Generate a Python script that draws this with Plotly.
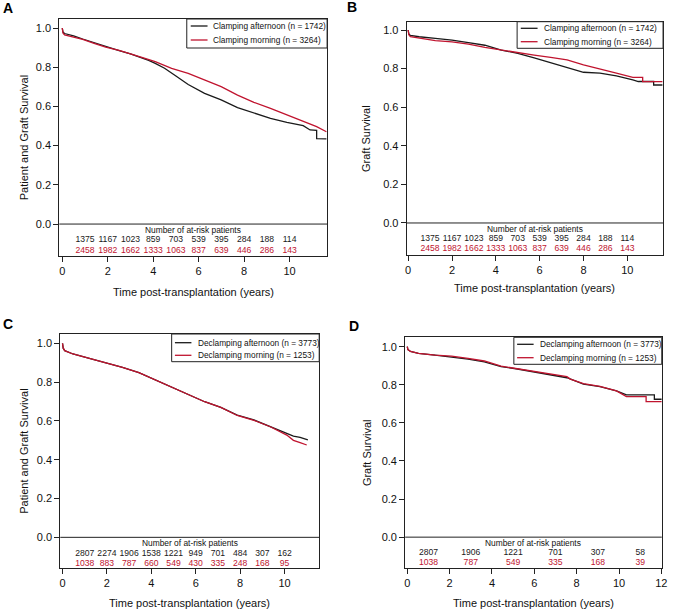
import plotly.graph_objects as go

W, H = 674, 609
FONT = "Liberation Sans, Arial, Helvetica, sans-serif"
BLACK = "#1a1a1a"
RED = "#c0142f"

# ---------------- data ----------------
# Panel A: patient and graft survival, clamping
A_t_aft = [0, 0.03, 0.1, 0.5, 0.9, 1.4, 1.91, 2.5, 3.0, 3.36, 3.8, 4.09, 4.5, 5.0, 5.54, 6.26, 6.99, 7.71, 8.43, 9.16, 9.88, 10.6, 10.9, 11.19, 11.19, 11.62]
A_s_aft = [1.0, 0.98, 0.972, 0.96, 0.944, 0.925, 0.905, 0.885, 0.868, 0.854, 0.835, 0.820, 0.795, 0.755, 0.712, 0.667, 0.633, 0.594, 0.565, 0.539, 0.519, 0.502, 0.480, 0.478, 0.436, 0.434]
A_t_morn = [0, 0.03, 0.1, 0.5, 0.9, 1.4, 1.91, 2.5, 3.0, 3.5, 4.09, 4.81, 5.54, 6.26, 6.99, 7.71, 8.43, 9.16, 9.88, 10.6, 11.19, 11.62]
A_s_morn = [1.0, 0.975, 0.965, 0.955, 0.942, 0.922, 0.903, 0.886, 0.870, 0.850, 0.828, 0.794, 0.769, 0.735, 0.701, 0.658, 0.621, 0.590, 0.556, 0.522, 0.497, 0.471]

# Panel B: graft survival, clamping
B_t_aft = [0, 0.03, 0.1, 0.5, 1.24, 2.0, 2.75, 3.5, 4.25, 5.0, 5.75, 6.5, 7.25, 8.0, 8.75, 9.5, 10.25, 10.5, 11.2, 11.2, 11.6]
B_s_aft = [1.0, 0.98, 0.972, 0.965, 0.957, 0.948, 0.934, 0.921, 0.896, 0.879, 0.856, 0.831, 0.805, 0.781, 0.776, 0.762, 0.741, 0.733, 0.733, 0.715, 0.715]
B_t_morn = [0, 0.03, 0.1, 0.5, 1.24, 2.0, 2.75, 3.5, 4.25, 5.0, 5.75, 6.5, 7.25, 8.0, 8.75, 9.5, 10.25, 10.7, 10.7, 11.6]
B_s_morn = [1.0, 0.975, 0.965, 0.957, 0.945, 0.938, 0.927, 0.910, 0.896, 0.882, 0.870, 0.858, 0.845, 0.819, 0.796, 0.776, 0.755, 0.755, 0.732, 0.732]

# Panel C: patient and graft survival, declamping
C_t_aft = [0, 0.03, 0.1, 0.47, 1.21, 1.96, 2.70, 3.44, 4.18, 4.92, 5.66, 6.4, 7.13, 7.87, 8.62, 9.36, 10.1, 10.4, 10.7, 11.0, 11.05]
C_s_aft = [1.0, 0.975, 0.962, 0.945, 0.922, 0.900, 0.876, 0.849, 0.811, 0.776, 0.737, 0.699, 0.670, 0.630, 0.605, 0.570, 0.536, 0.522, 0.515, 0.502, 0.502]
C_t_morn = [0, 0.03, 0.1, 0.47, 1.21, 1.96, 2.70, 3.44, 4.18, 4.92, 5.66, 6.4, 7.13, 7.87, 8.62, 9.36, 10.1, 10.4, 10.7, 11.0]
C_s_morn = [1.0, 0.975, 0.962, 0.945, 0.922, 0.900, 0.876, 0.849, 0.811, 0.773, 0.734, 0.699, 0.670, 0.628, 0.603, 0.570, 0.527, 0.500, 0.488, 0.476]

# Panel D: graft survival, declamping
D_t_aft = [0, 0.03, 0.15, 0.53, 1.31, 2.09, 2.87, 3.64, 4.43, 5.2, 5.98, 6.76, 7.54, 8.32, 9.1, 9.88, 10.35, 11.67, 11.67, 12.02]
D_s_aft = [1.0, 0.985, 0.975, 0.965, 0.956, 0.946, 0.935, 0.921, 0.895, 0.883, 0.869, 0.852, 0.837, 0.803, 0.790, 0.768, 0.747, 0.747, 0.724, 0.724]
D_t_morn = [0, 0.03, 0.15, 0.53, 1.31, 2.09, 2.87, 3.64, 4.43, 5.2, 5.98, 6.76, 7.54, 7.7, 8.32, 9.1, 9.88, 10.35, 11.28, 11.28, 12.02]
D_s_morn = [1.0, 0.985, 0.975, 0.965, 0.956, 0.951, 0.939, 0.925, 0.898, 0.885, 0.872, 0.856, 0.843, 0.830, 0.806, 0.792, 0.768, 0.738, 0.738, 0.712, 0.712]

# Number at risk
AB_risk_years = [1, 2, 3, 4, 5, 6, 7, 8, 9, 10]
AB_risk_aft = [1375, 1167, 1023, 859, 703, 539, 395, 284, 188, 114]
AB_risk_morn = [2458, 1982, 1662, 1333, 1063, 837, 639, 446, 286, 143]
C_risk_years = [1, 2, 3, 4, 5, 6, 7, 8, 9, 10]
C_risk_aft = [2807, 2274, 1906, 1538, 1221, 949, 701, 484, 307, 162]
C_risk_morn = [1038, 883, 787, 660, 549, 430, 335, 248, 168, 95]
D_risk_years = [1, 3, 5, 7, 9, 11]
D_risk_aft = [2807, 1906, 1221, 701, 307, 58]
D_risk_morn = [1038, 787, 549, 335, 168, 39]

Y_TICKS = [0, 0.2, 0.4, 0.6, 0.8, 1.0]
X_TICKS = [0, 2, 4, 6, 8, 10, 12]

# ---------------- layout helpers ----------------
def px(x):
    return x / W

def py(y):
    return 1 - y / H

panels = [
    dict(letter="A", letter_xy=(6, 8), box=(58, 19, 329, 256), xr=[-0.13, 11.65], yr=[-0.163, 1.046],
         ytitle="Patient and Graft Survival", ytitle_x=22,
         legend=dict(box=(187, 19, 329, 48), rows=(26, 40), line=(191, 208), text_x=212,
                     labels=["Clamping afternoon (n = 1742)", "Clamping morning (n = 3264)"]),
         curves=[(A_t_aft, A_s_aft, BLACK), (A_t_morn, A_s_morn, RED)],
         risk=(AB_risk_years, AB_risk_aft, AB_risk_morn), xtitle_y=292),
    dict(letter="B", letter_xy=(354, 7), box=(409.5, 21.7, 669, 255), xr=[-0.07, 11.63], yr=[-0.166, 1.043],
         ytitle="Graft Survival", ytitle_x=369,
         legend=dict(box=(521.3, 21.7, 669, 48.3), rows=(28.3, 41.7), line=(525, 542), text_x=546,
                     labels=["Clamping afternoon (n = 1742)", "Clamping morning (n = 3264)"]),
         curves=[(B_t_aft, B_s_aft, BLACK), (B_t_morn, B_s_morn, RED)],
         risk=(AB_risk_years, AB_risk_aft, AB_risk_morn), xtitle_y=288),
    dict(letter="C", letter_xy=(6, 324), box=(59, 334, 321, 568), xr=[-0.1, 11.56], yr=[-0.158, 1.048],
         ytitle="Patient and Graft Survival", ytitle_x=22,
         legend=dict(box=(171.7, 334, 321, 361.7), rows=(342.7, 355.3), line=(175, 191.7), text_x=196.5,
                     labels=["Declamping afternoon (n = 3773)", "Declamping morning (n = 1253)"]),
         curves=[(C_t_aft, C_s_aft, BLACK), (C_t_morn, C_s_morn, RED)],
         risk=(C_risk_years, C_risk_aft, C_risk_morn), xtitle_y=603),
    dict(letter="D", letter_xy=(356, 326), box=(408, 337, 667.7, 568), xr=[-0.1, 12.02], yr=[-0.162, 1.051],
         ytitle="Graft Survival", ytitle_x=369,
         legend=dict(box=(518, 337.3, 667.7, 364.3), rows=(344.3, 357.7), line=(521.3, 538), text_x=542,
                     labels=["Declamping afternoon (n = 3773)", "Declamping morning (n = 1253)"]),
         curves=[(D_t_aft, D_s_aft, BLACK), (D_t_morn, D_s_morn, RED)],
         risk=(D_risk_years, D_risk_aft, D_risk_morn), xtitle_y=603),
]

fig = go.Figure()
layout = dict(width=W, height=H, margin=dict(l=0, r=0, t=0, b=0), paper_bgcolor="white",
              plot_bgcolor="white", showlegend=False, font=dict(family=FONT, color="#111", size=11))
shapes, annotations = [], []

for i, p in enumerate(panels):
    n = "" if i == 0 else str(i + 1)
    xa, ya = "x" + n, "y" + n
    x0, y0, x1, y1 = p["box"]
    axis_common = dict(showgrid=False, zeroline=False, showline=True, mirror=True, linecolor="#222",
                       linewidth=1, ticks="outside", ticklen=5, tickwidth=1, tickcolor="#222",
                       tickfont=dict(family=FONT, size=11, color="#111"), fixedrange=True)
    layout["xaxis" + n] = dict(axis_common, domain=[px(x0), px(x1)], range=p["xr"], anchor=ya,
                               tickvals=X_TICKS, ticktext=[str(v) for v in X_TICKS])
    layout["yaxis" + n] = dict(axis_common, domain=[py(y1), py(y0)], range=p["yr"], anchor=xa,
                               tickvals=Y_TICKS, tickformat=".1f")
    for t, s, c in p["curves"]:
        fig.add_trace(go.Scatter(x=t, y=s, mode="lines", line=dict(color=c, width=1.3),
                                 xaxis=xa, yaxis=ya, hoverinfo="skip"))
    yrs, aft, morn = p["risk"]
    fig.add_trace(go.Scatter(x=yrs, y=[-0.083] * len(yrs), mode="text", text=[str(v) for v in aft],
                             textfont=dict(family=FONT, size=8.6, color=BLACK), xaxis=xa, yaxis=ya,
                             hoverinfo="skip"))
    fig.add_trace(go.Scatter(x=yrs, y=[-0.135] * len(yrs), mode="text", text=[str(v) for v in morn],
                             textfont=dict(family=FONT, size=8.6, color=RED), xaxis=xa, yaxis=ya,
                             hoverinfo="skip"))
    # horizontal line at 0
    shapes.append(dict(type="line", xref=xa + " domain", yref=ya, x0=0, x1=1, y0=0, y1=0,
                       line=dict(color="#222", width=1)))
    annotations.append(dict(text="Number of at-risk patients", xref=xa + " domain", yref=ya, x=0.5,
                            y=-0.03, showarrow=False, font=dict(family=FONT, size=8.4, color="#111")))
    # legend
    lg = p["legend"]
    bx0, by0, bx1, by1 = lg["box"]
    shapes.append(dict(type="rect", xref="paper", yref="paper", x0=px(bx0), x1=px(bx1), y0=py(by1),
                       y1=py(by0), line=dict(color="#222", width=1), fillcolor="white", layer="above"))
    for row_y, col, lab in zip(lg["rows"], [BLACK, RED], lg["labels"]):
        shapes.append(dict(type="line", xref="paper", yref="paper", x0=px(lg["line"][0]),
                           x1=px(lg["line"][1]), y0=py(row_y), y1=py(row_y),
                           line=dict(color=col, width=1.3), layer="above"))
        annotations.append(dict(text=lab, xref="paper", yref="paper", x=px(lg["text_x"]), y=py(row_y),
                                xanchor="left", yanchor="middle", showarrow=False,
                                font=dict(family=FONT, size=8.3, color="#111")))
    # axis titles
    annotations.append(dict(text=p["ytitle"], xref="paper", yref="paper", x=px(p["ytitle_x"]),
                            y=py((y0 + y1) / 2), textangle=-90, showarrow=False,
                            xanchor="center", yanchor="middle", font=dict(family=FONT, size=11, color="#111")))
    annotations.append(dict(text="Time post-transplantation (years)", xref="paper", yref="paper",
                            x=px((x0 + x1) / 2), y=py(p["xtitle_y"]), showarrow=False,
                            xanchor="center", yanchor="middle", font=dict(family=FONT, size=11, color="#111")))
    # panel letter
    lx, ly = p["letter_xy"]
    annotations.append(dict(text="<b>" + p["letter"] + "</b>", xref="paper", yref="paper", x=px(lx),
                            y=py(ly), showarrow=False, xanchor="center", yanchor="middle",
                            font=dict(family=FONT, size=14, color="#000")))

layout["shapes"] = shapes
layout["annotations"] = annotations
fig.update_layout(**layout)
# the page body has a default 8px margin; remove it so the figure fills the window exactly
fig.write_html("out.html", config={"displayModeBar": False, "staticPlot": True},
               post_script="document.body.style.margin='0px';")
